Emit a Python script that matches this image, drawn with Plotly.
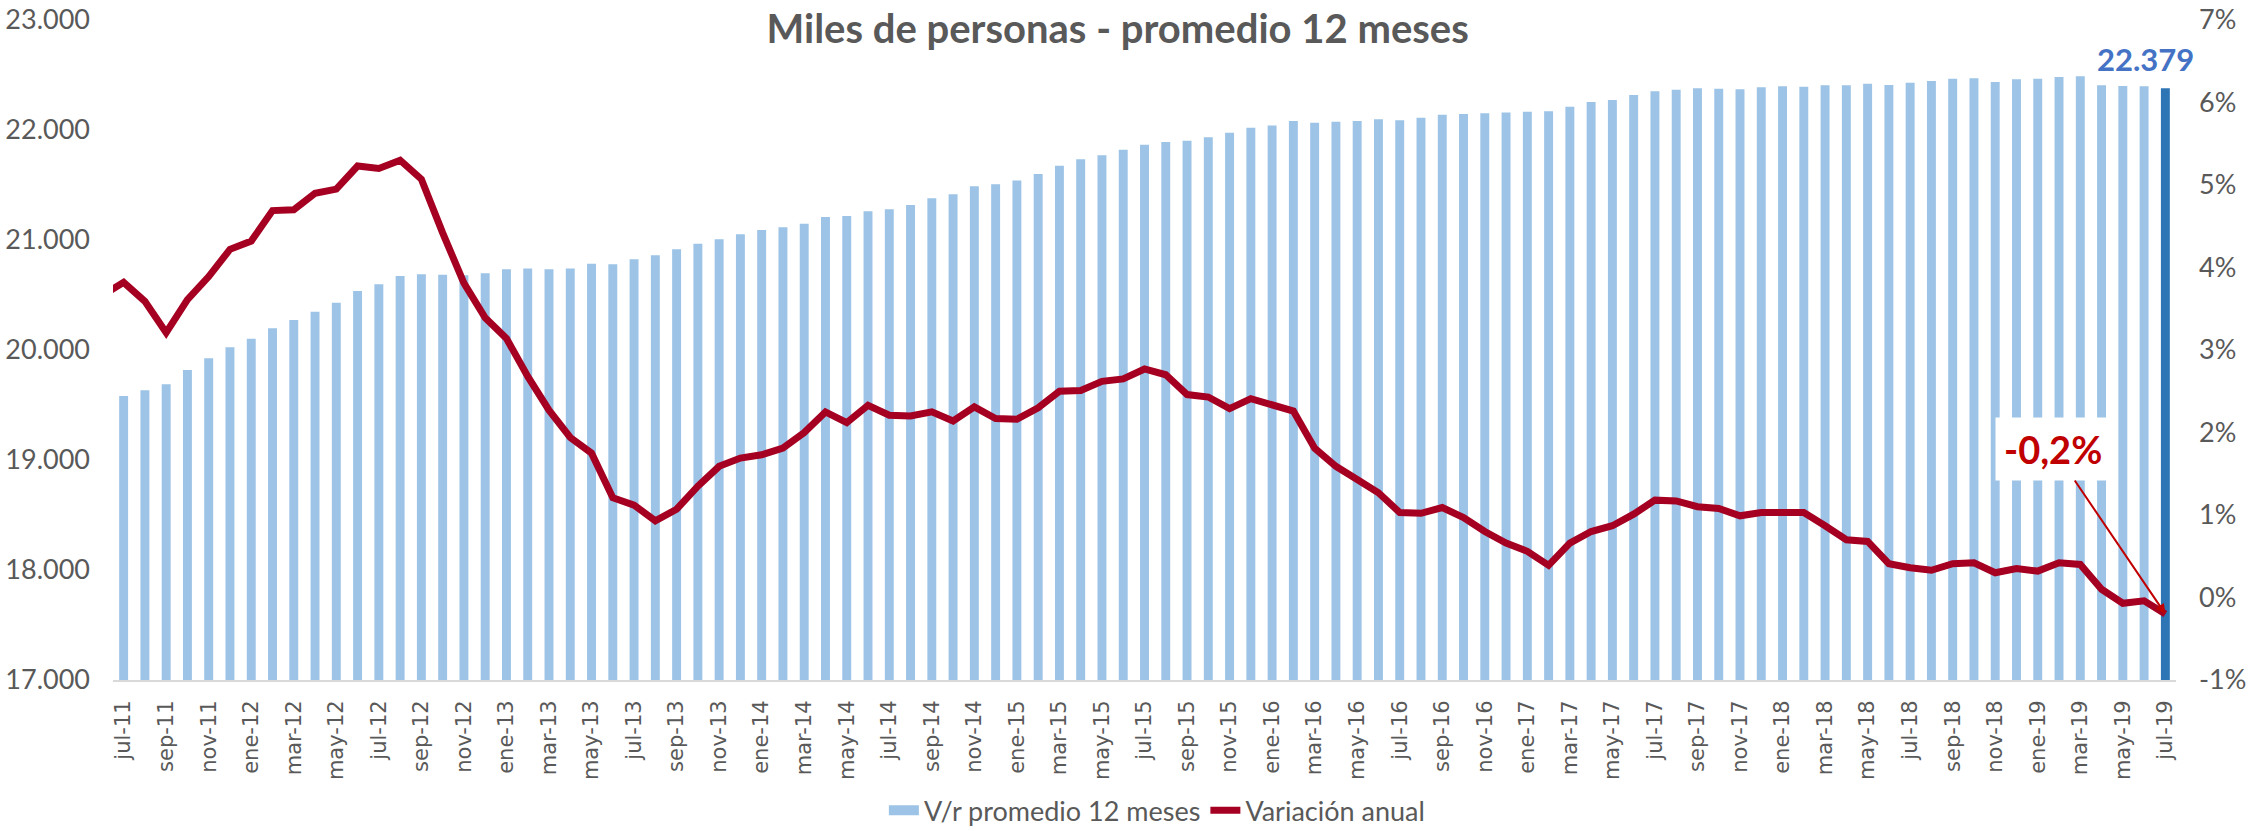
import plotly.graph_objects as go

# "jun-11" sits just left of the visible range: only the start of the line reaches into the plot
categories = [
    "jun-11",
    "jul-11", "ago-11", "sep-11", "oct-11", "nov-11", "dic-11",
    "ene-12", "feb-12", "mar-12", "abr-12", "may-12", "jun-12", "jul-12", "ago-12", "sep-12", "oct-12", "nov-12", "dic-12",
    "ene-13", "feb-13", "mar-13", "abr-13", "may-13", "jun-13", "jul-13", "ago-13", "sep-13", "oct-13", "nov-13", "dic-13",
    "ene-14", "feb-14", "mar-14", "abr-14", "may-14", "jun-14", "jul-14", "ago-14", "sep-14", "oct-14", "nov-14", "dic-14",
    "ene-15", "feb-15", "mar-15", "abr-15", "may-15", "jun-15", "jul-15", "ago-15", "sep-15", "oct-15", "nov-15", "dic-15",
    "ene-16", "feb-16", "mar-16", "abr-16", "may-16", "jun-16", "jul-16", "ago-16", "sep-16", "oct-16", "nov-16", "dic-16",
    "ene-17", "feb-17", "mar-17", "abr-17", "may-17", "jun-17", "jul-17", "ago-17", "sep-17", "oct-17", "nov-17", "dic-17",
    "ene-18", "feb-18", "mar-18", "abr-18", "may-18", "jun-18", "jul-18", "ago-18", "sep-18", "oct-18", "nov-18", "dic-18",
    "ene-19", "feb-19", "mar-19", "abr-19", "may-19", "jun-19", "jul-19",
]

promedio_12m = [
    None,
    19582, 19633, 19688, 19818, 19924, 20024,
    20103, 20197, 20273, 20348, 20430, 20536, 20597, 20673, 20688, 20685, 20679, 20697,
    20733, 20742, 20733, 20742, 20785, 20779, 20824, 20861, 20915, 20967, 21006, 21052,
    21090, 21115, 21148, 21209, 21218, 21261, 21279, 21318, 21379, 21415, 21488, 21506,
    21542, 21600, 21675, 21733, 21770, 21821, 21867, 21891, 21903, 21933, 21976, 22021,
    22042, 22082, 22067, 22076, 22082, 22097, 22088, 22112, 22139, 22145, 22152, 22158,
    22167, 22170, 22212, 22255, 22273, 22318, 22352, 22367, 22379, 22376, 22370, 22388,
    22397, 22394, 22406, 22406, 22421, 22409, 22430, 22445, 22467, 22470, 22436, 22461,
    22467, 22482, 22488, 22406, 22400, 22397, 22379,
]

variacion_anual = [
    3.66,
    3.82, 3.59, 3.21, 3.61, 3.89, 4.22,
    4.32, 4.69, 4.70, 4.90, 4.95, 5.23, 5.20, 5.30, 5.07, 4.42, 3.81, 3.39,
    3.14, 2.68, 2.27, 1.94, 1.75, 1.21, 1.12, 0.93, 1.07, 1.35, 1.59, 1.69,
    1.73, 1.81, 2.00, 2.25, 2.12, 2.33, 2.21, 2.20, 2.25, 2.14, 2.31, 2.17,
    2.16, 2.30, 2.50, 2.51, 2.62, 2.65, 2.77, 2.70, 2.46, 2.43, 2.29, 2.41,
    2.34, 2.26, 1.81, 1.59, 1.43, 1.27, 1.03, 1.02, 1.09, 0.97, 0.80, 0.66,
    0.56, 0.39, 0.66, 0.80, 0.87, 1.01, 1.18, 1.17, 1.10, 1.08, 0.99, 1.03,
    1.03, 1.03, 0.87, 0.70, 0.68, 0.41, 0.36, 0.33, 0.41, 0.42, 0.30, 0.35,
    0.32, 0.42, 0.40, 0.10, -0.07, -0.04, -0.20,
]

left_ticks = [17000, 18000, 19000, 20000, 21000, 22000, 23000]
right_ticks = [-1, 0, 1, 2, 3, 4, 5, 6, 7]
right_ticktext = [f"{t}%" for t in right_ticks]
x_tickvals = categories[1::2]

LIGHT_BLUE = "#9DC3E6"
DARK_BLUE = "#2E75B6"
LINE_RED = "#A50021"
GRAY = "#595959"

bar_colors = [LIGHT_BLUE] * (len(categories) - 1) + [DARK_BLUE]

fig = go.Figure()
fig.add_trace(go.Bar(
    x=categories, y=promedio_12m, name="V/r promedio 12 meses",
    marker=dict(color=bar_colors, line=dict(width=0)),
    yaxis="y", showlegend=False,
))
# legend entry for the bars, drawn as a wide swatch like the original
fig.add_trace(go.Scatter(
    x=[None], y=[None], name="V/r promedio 12 meses", mode="lines",
    line=dict(color=LIGHT_BLUE, width=19), yaxis="y", showlegend=True,
))
fig.add_trace(go.Scatter(
    x=categories, y=variacion_anual, name="Variación anual", mode="lines",
    line=dict(color=LINE_RED, width=7),
    yaxis="y2",
))

last_cat = categories[-1]
last_val = promedio_12m[-1]
last_var = variacion_anual[-1]

fig.add_annotation(
    x=last_cat, y=last_val, xref="x", yref="y",
    text=f"<b>{last_val:,}</b>".replace(",", "."),
    showarrow=False, yanchor="bottom", yshift=8, xshift=-20,
    font=dict(family="Lato", size=31, color="#4472C4"),
)
fig.add_annotation(
    x=last_cat, y=last_var, xref="x", yref="y2",
    text="<b>" + f"{last_var:.1f}".replace(".", ",") + "%</b>",
    showarrow=True, ax=-112, ay=-165,
    arrowhead=2, arrowsize=1, arrowwidth=2, arrowcolor="#C00000",
    bgcolor="white", borderpad=8,
    font=dict(family="Lato", size=38, color="#C00000"),
)

fig.update_layout(
    width=2267, height=831,
    paper_bgcolor="white", plot_bgcolor="white",
    margin=dict(l=113, r=91, t=20, b=151, autoexpand=False),
    separators=",.",
    bargap=0.58,
    title=dict(
        text="<b>Miles de personas - promedio 12 meses</b>",
        x=0.493, xanchor="center", y=0.965, yanchor="middle",
        font=dict(family="Lato", size=40, color=GRAY),
    ),
    xaxis=dict(
        type="category", tickmode="array", tickvals=x_tickvals, ticktext=x_tickvals,
        range=[0.5, len(categories) - 0.5],
        tickangle=-90, tickfont=dict(family="DejaVu Sans", size=21, color=GRAY),
        showline=True, linecolor="#D9D9D9", linewidth=2, showgrid=False,
        ticks="", ticklabelstandoff=10,
    ),
    yaxis=dict(
        range=[17000, 23000], tickvals=left_ticks, tickformat=",.0f",
        tickfont=dict(family="Lato", size=27, color=GRAY),
        showgrid=False, zeroline=False, showline=False, ticks="",
        ticklabelstandoff=22,
    ),
    yaxis2=dict(
        range=[-1, 7], overlaying="y", side="right",
        tickmode="array", tickvals=right_ticks, ticktext=right_ticktext,
        tickfont=dict(family="Lato", size=27, color=GRAY),
        showgrid=False, zeroline=False, showline=False, ticks="",
        ticklabelstandoff=22,
    ),
    legend=dict(
        orientation="h", x=0.506, xanchor="center", y=-0.198, yanchor="middle",
        font=dict(family="Lato", size=27, color=GRAY),
        traceorder="normal", bgcolor="rgba(0,0,0,0)",
    ),
    showlegend=True,
)

fig.write_html(
    "out.html",
    config={"displayModeBar": False},
    post_script="document.body.style.margin='0px';",
)
